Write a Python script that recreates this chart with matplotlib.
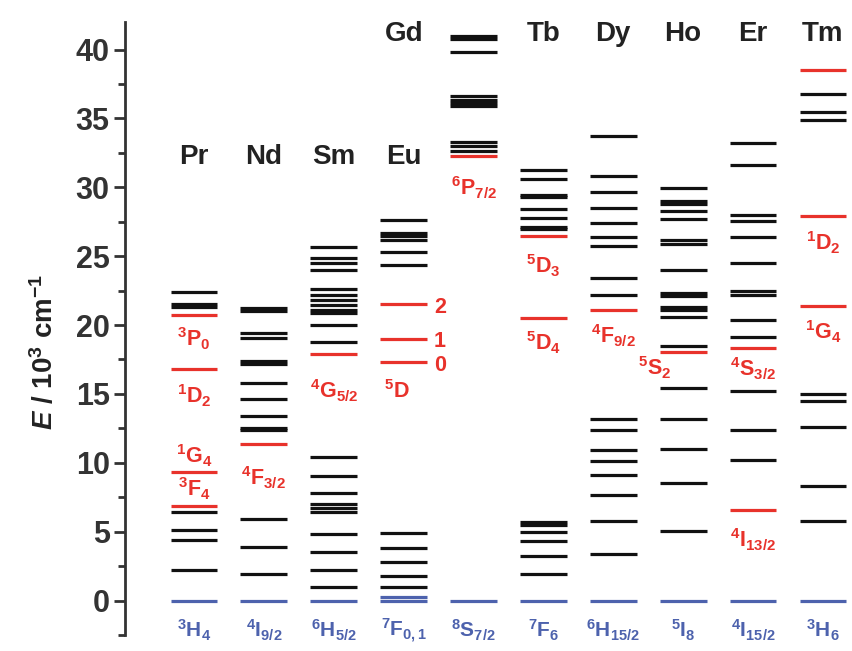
import numpy as np
import matplotlib.pyplot as plt
from matplotlib.ticker import MultipleLocator

plt.rcParams['font.family'] = ['Liberation Sans', 'DejaVu Sans']
plt.rcParams['mathtext.fontset'] = 'custom'
plt.rcParams['mathtext.rm'] = 'Liberation Sans'
plt.rcParams['mathtext.it'] = 'Liberation Sans:italic:bold'
plt.rcParams['mathtext.bf'] = 'Liberation Sans:bold'
plt.rcParams['mathtext.default'] = 'bf'

# energy levels in 10^3 cm^-1
elements = ['Pr', 'Nd', 'Sm', 'Eu', 'Gd', 'Tb', 'Dy', 'Ho', 'Er', 'Tm']

pr_black = [22.4, 21.5, 21.3, 6.4, 5.1, 4.4, 2.2]
pr_red = [20.7, 16.8, 9.3, 6.9]
nd_black = [21.25, 21.0, 19.4, 19.05, 17.4, 17.2, 15.8, 14.6, 13.4, 12.5, 12.35, 5.9, 3.9, 1.9]
nd_red = [11.35]
sm_black = [25.7, 24.9, 24.5, 24.0, 22.6, 22.2, 21.8, 21.45, 21.1, 20.9, 20.0, 18.8,
            10.4, 9.05, 7.8, 7.0, 6.7, 6.4, 4.85, 3.5, 2.2, 0.97]
sm_red = [17.9]
eu_black = [27.6, 26.7, 26.45, 26.2, 25.3, 24.35, 4.9, 3.8, 2.8, 1.8, 0.95]
eu_red = [21.5, 19.0, 17.3]
gd_black = [41.0, 40.8, 39.8, 36.6, 36.35, 36.1, 35.9, 33.3, 33.0, 32.6]
gd_red = [32.25]
tb_black = [31.25, 30.6, 29.45, 29.3, 28.4, 27.8, 27.1, 26.95, 5.72, 5.5, 4.96, 4.3, 3.2, 1.95]
tb_red = [26.45, 20.5]
dy_black = [33.7, 30.8, 29.65, 28.5, 27.4, 26.4, 25.75, 23.4, 22.2,
            13.2, 12.4, 10.95, 10.1, 9.1, 7.65, 5.75, 3.4]
dy_red = [21.1]
ho_black = [29.95, 29.0, 28.8, 28.3, 27.7, 26.15, 25.85, 24.0, 22.35, 22.1, 21.3, 21.1,
            20.55, 18.5, 15.4, 13.2, 11.0, 8.5, 5.05]
ho_red = [18.05]
er_black = [33.2, 31.6, 28.0, 27.55, 26.4, 24.5, 22.5, 22.2, 20.4, 19.15, 15.2, 12.35, 10.2]
er_red = [18.3, 6.55]
tm_black = [36.75, 35.5, 34.9, 15.0, 14.5, 12.6, 8.3, 5.8]
tm_red = [38.55, 27.95, 21.4]

black_levels = [pr_black, nd_black, sm_black, eu_black, gd_black,
                tb_black, dy_black, ho_black, er_black, tm_black]
red_levels = [pr_red, nd_red, sm_red, eu_red, gd_red,
              tb_red, dy_red, ho_red, er_red, tm_red]
ground_levels = [[0], [0], [0], [0, 0.25], [0], [0], [0], [0], [0], [0]]

ground_labels = [r'$^{3}H_{4}$', r'$^{4}I_{9/2}$', r'$^{6}H_{5/2}$', r'$^{7}F_{0,1}$',
                 r'$^{8}S_{7/2}$', r'$^{7}F_{6}$', r'$^{6}H_{15/2}$', r'$^{5}I_{8}$',
                 r'$^{4}I_{15/2}$', r'$^{3}H_{6}$']

# (column, x offset, energy, text)
red_labels = [
    (0, 0.0, 19.0, r'$^{3}P_{0}$'),
    (0, 0.0, 14.9, r'$^{1}D_{2}$'),
    (0, 0.0, 10.5, r'$^{1}G_{4}$'),
    (0, 0.0, 8.1, r'$^{3}F_{4}$'),
    (1, 0.0, 8.9, r'$^{4}F_{3/2}$'),
    (2, 0.0, 15.2, r'$^{4}G_{5/2}$'),
    (3, -0.1, 15.2, r'$^{5}D$'),
    (3, 0.52, 21.3, '2'),
    (3, 0.52, 18.8, '1'),
    (3, 0.52, 17.1, '0'),
    (4, 0.0, 30.0, r'$^{6}P_{7/2}$'),
    (5, 0.0, 24.3, r'$^{5}D_{3}$'),
    (5, 0.0, 18.7, r'$^{5}D_{4}$'),
    (6, 0.0, 19.2, r'$^{4}F_{9/2}$'),
    (7, -0.41, 16.9, r'$^{5}S_{2}$'),
    (8, 0.0, 16.8, r'$^{4}S_{3/2}$'),
    (8, 0.0, 4.4, r'$^{4}I_{13/2}$'),
    (9, 0.0, 26.0, r'$^{1}D_{2}$'),
    (9, 0.0, 19.5, r'$^{1}G_{4}$'),
]

# element name positions (column, x offset, energy)
name_pos = [(0, 0, 32.2), (1, 0, 32.2), (2, 0, 32.2), (3, 0, 32.2), (4, -0.99, 41.1),
            (5, 0, 41.1), (6, 0, 41.1), (7, 0, 41.1), (8, 0, 41.1), (9, 0, 41.1)]

BLACK = '#111111'
RED = '#e8322b'
BLUE = '#4d62ad'
half = 0.335

fig = plt.figure(figsize=(8.53, 6.51), dpi=100)
ax = fig.add_axes([125 / 853, 16 / 651, 728 / 853, 613 / 651])

for i in range(len(elements)):
    ax.hlines(black_levels[i], i - half, i + half, color=BLACK, lw=2.3)
    ax.hlines(red_levels[i], i - half, i + half, color=RED, lw=2.3)
    ax.hlines(ground_levels[i], i - half, i + half, color=BLUE, lw=2.3)
    ax.text(i, -2.2, ground_labels[i], color=BLUE, fontsize=15, fontweight='bold',
            ha='center', va='center', clip_on=False)

for col, dx, e, txt in red_labels:
    ax.text(col + dx, e, txt, color=RED, fontsize=15.5, fontweight='bold',
            ha='center', va='center')

for (col, dx, e), name in zip(name_pos, elements):
    ax.text(col + dx, e, name, color='#222222', fontsize=20, fontweight='bold',
            ha='center', va='center')

ax.set_xlim(-0.987, 9.43)
ax.set_ylim(-2.5, 42)
ax.yaxis.set_major_locator(MultipleLocator(5))
ax.yaxis.set_minor_locator(MultipleLocator(2.5))
ax.tick_params(axis='y', which='major', length=8, width=2, labelsize=22, pad=3,
               color='#333333', labelcolor='#333333')
ax.tick_params(axis='y', which='minor', length=5, width=2, color='#333333')
for lab in ax.get_yticklabels():
    lab.set_fontweight('bold')
ax.set_xticks([])
for s in ['top', 'right', 'bottom']:
    ax.spines[s].set_visible(False)
ax.spines['left'].set_linewidth(2)
ax.spines['left'].set_color('#333333')

fig.text(45 / 853, 1 - 352 / 651, r'$\mathit{E}$ / 10$^{3}$ cm$^{-1}$', rotation=90,
         fontsize=20, fontweight='bold', color='#222222', ha='center', va='center')

fig.savefig('out.png', dpi=100)
